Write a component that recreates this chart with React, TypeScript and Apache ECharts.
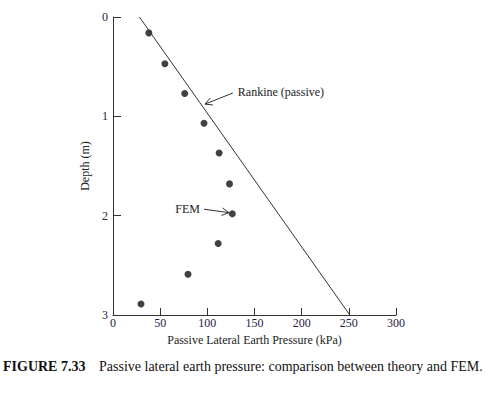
import { useEffect, useRef } from 'react';
import * as echarts from 'echarts';

// Axis ticks
const pressureTicks = [0, 50, 100, 150, 200, 250, 300];
const depthTicks = [0, 1, 2, 3];

// Rankine (passive) theory line: pressure (kPa) vs depth (m)
const rankinePressure = [28, 251];
const rankineDepth = [0, 3];

// FEM results
const femPressure = [38, 55, 76, 96.5, 112.5, 123.5, 126.5, 111.5, 79.5, 29.7];
const femDepth = [0.16, 0.47, 0.77, 1.07, 1.37, 1.68, 1.98, 2.28, 2.59, 2.89];

// Annotation anchors in data units [pressure, depth]
const rankineArrowTail = [127, 0.765];
const rankineArrowTip = [97.5, 0.877];
const femArrowTail = [96.5, 1.935];
const femArrowTip = [123, 1.97];

const SERIF = "'Liberation Serif', 'DejaVu Serif', serif";
const TICK_COLOR = '#1f1b45';
const INK = '#222';

export default function App() {
  const ref = useRef<HTMLDivElement>(null);

  useEffect(() => {
    if (!ref.current) return;
    const chart = echarts.init(ref.current, undefined, { renderer: 'svg' });

    chart.setOption({
      animation: false,
      backgroundColor: '#fff',
      textStyle: { fontFamily: SERIF },
      grid: { left: 113, right: 94, top: 17, bottom: 84 },
      xAxis: {
        type: 'value',
        min: pressureTicks[0],
        max: pressureTicks[pressureTicks.length - 1],
        interval: 50,
        name: 'Passive Lateral Earth Pressure (kPa)',
        nameLocation: 'middle',
        nameGap: 17,
        nameTextStyle: { fontFamily: SERIF, fontSize: 12, color: INK },
        axisLine: { onZero: false, lineStyle: { color: '#333', width: 1 } },
        axisTick: { inside: true, length: 7, lineStyle: { color: '#333' } },
        axisLabel: { fontFamily: SERIF, fontSize: 12, color: TICK_COLOR, margin: 2 },
        splitLine: { show: false },
      },
      yAxis: {
        type: 'value',
        inverse: true,
        min: depthTicks[0],
        max: depthTicks[depthTicks.length - 1],
        interval: 1,
        name: 'Depth (m)',
        nameLocation: 'middle',
        nameRotate: 90,
        nameGap: 20,
        nameTextStyle: { fontFamily: SERIF, fontSize: 12, color: INK },
        axisLine: { onZero: false, lineStyle: { color: '#333', width: 1 } },
        axisTick: { inside: true, length: 8, lineStyle: { color: '#333' } },
        axisLabel: { fontFamily: SERIF, fontSize: 12, color: TICK_COLOR, margin: 5 },
        splitLine: { show: false },
      },
      series: [
        {
          type: 'line',
          name: 'Rankine (passive)',
          data: rankinePressure.map((p, i) => [p, rankineDepth[i]]),
          symbol: 'none',
          lineStyle: { color: '#333', width: 1 },
        },
        {
          type: 'scatter',
          name: 'FEM',
          data: femPressure.map((p, i) => [p, femDepth[i]]),
          symbol: 'circle',
          symbolSize: 7,
          itemStyle: { color: '#111' },
        },
      ],
    });

    const toPx = (pt: number[]) => chart.convertToPixel({ gridIndex: 0 }, pt) as number[];
    const arrow = (tail: number[], tip: number[]) => {
      const t = toPx(tail);
      const p = toPx(tip);
      const dx = p[0] - t[0];
      const dy = p[1] - t[1];
      const len = Math.hypot(dx, dy);
      const ux = dx / len;
      const uy = dy / len;
      const L = 8;
      const a = (28 * Math.PI) / 180;
      const rot = (ang: number) => [
        p[0] - L * (ux * Math.cos(ang) - uy * Math.sin(ang)),
        p[1] - L * (ux * Math.sin(ang) + uy * Math.cos(ang)),
      ];
      return [
        { type: 'polyline', shape: { points: [t, p] }, style: { stroke: '#333', lineWidth: 1, fill: 'none' } },
        { type: 'polyline', shape: { points: [rot(a), p, rot(-a)] }, style: { stroke: '#333', lineWidth: 1, fill: 'none' } },
      ];
    };
    const rt = toPx(rankineArrowTail);
    const ft = toPx(femArrowTail);

    chart.setOption({
      graphic: [
        ...arrow(rankineArrowTail, rankineArrowTip),
        ...arrow(femArrowTail, femArrowTip),
        {
          type: 'text',
          x: rt[0] + 5,
          y: rt[1] - 1,
          style: { text: 'Rankine (passive)', fontFamily: SERIF, fontSize: 12, fill: INK, align: 'left', verticalAlign: 'middle' },
        },
        {
          type: 'text',
          x: ft[0] - 4,
          y: ft[1],
          style: { text: 'FEM', fontFamily: SERIF, fontSize: 12, fill: INK, align: 'right', verticalAlign: 'middle' },
        },
        {
          type: 'text',
          left: 3,
          top: 359,
          style: { text: 'FIGURE 7.33', fontFamily: SERIF, fontSize: 14, fontWeight: 'bold', fill: '#111' },
        },
        {
          type: 'text',
          left: 99,
          top: 359,
          style: {
            text: 'Passive lateral earth pressure: comparison between theory and FEM.',
            fontFamily: SERIF,
            fontSize: 14,
            fill: '#111',
          },
        },
      ],
    });

    return () => chart.dispose();
  }, []);

  return <div ref={ref} style={{ position: 'absolute', left: 0, top: 0, width: 490, height: 399 }} />;
}
